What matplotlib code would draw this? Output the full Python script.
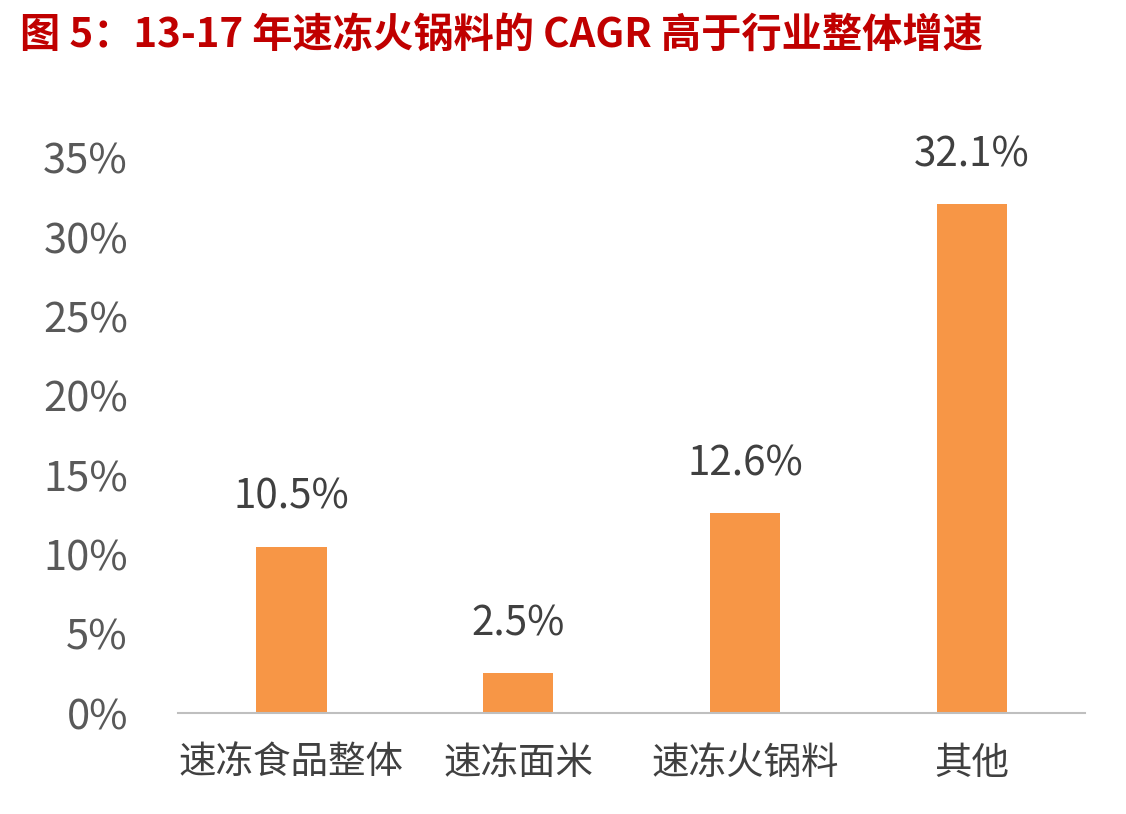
import matplotlib
matplotlib.use("Agg")
import matplotlib.pyplot as plt

plt.rcParams['font.family'] = ['Noto Sans CJK SC', 'DejaVu Sans']

categories = ["速冻食品整体", "速冻面米", "速冻火锅料", "其他"]
cagr = [10.5, 2.5, 12.6, 32.1]
yticks = [0, 5, 10, 15, 20, 25, 30, 35]

fig = plt.figure(figsize=(11.26, 8.14), dpi=100)
ax = fig.add_axes([0.158, 0.124, 0.806, 0.682])

x = range(len(categories))
ax.bar(x, cagr, width=0.31, color="#F79646")
for xi, v in zip(x, cagr):
    ax.text(xi, v + 3.1, f"{v:.1f}%", ha="center", va="center",
            fontsize=29, color="#404040")

ax.set_xlim(-0.5, 3.5)
ax.set_ylim(0, 35)
ax.set_yticks(yticks)
ax.set_yticklabels([f"{t}%" for t in yticks], fontsize=30, color="#595959")
ax.set_xticks(list(x))
ax.set_xticklabels(categories, fontsize=27, color="#404040")
ax.tick_params(axis="y", length=0, pad=36)
ax.tick_params(axis="x", length=0, pad=22)
for s in ["top", "right", "left"]:
    ax.spines[s].set_visible(False)
ax.spines["bottom"].set_color("#BFBFBF")
ax.spines["bottom"].set_linewidth(1.5)

fig.text(0.018, 0.957, "图 5：13-17 年速冻火锅料的 CAGR 高于行业整体增速",
         fontsize=29, fontweight="bold", color="#C00000", va="center")

fig.savefig("out.png", dpi=100)
